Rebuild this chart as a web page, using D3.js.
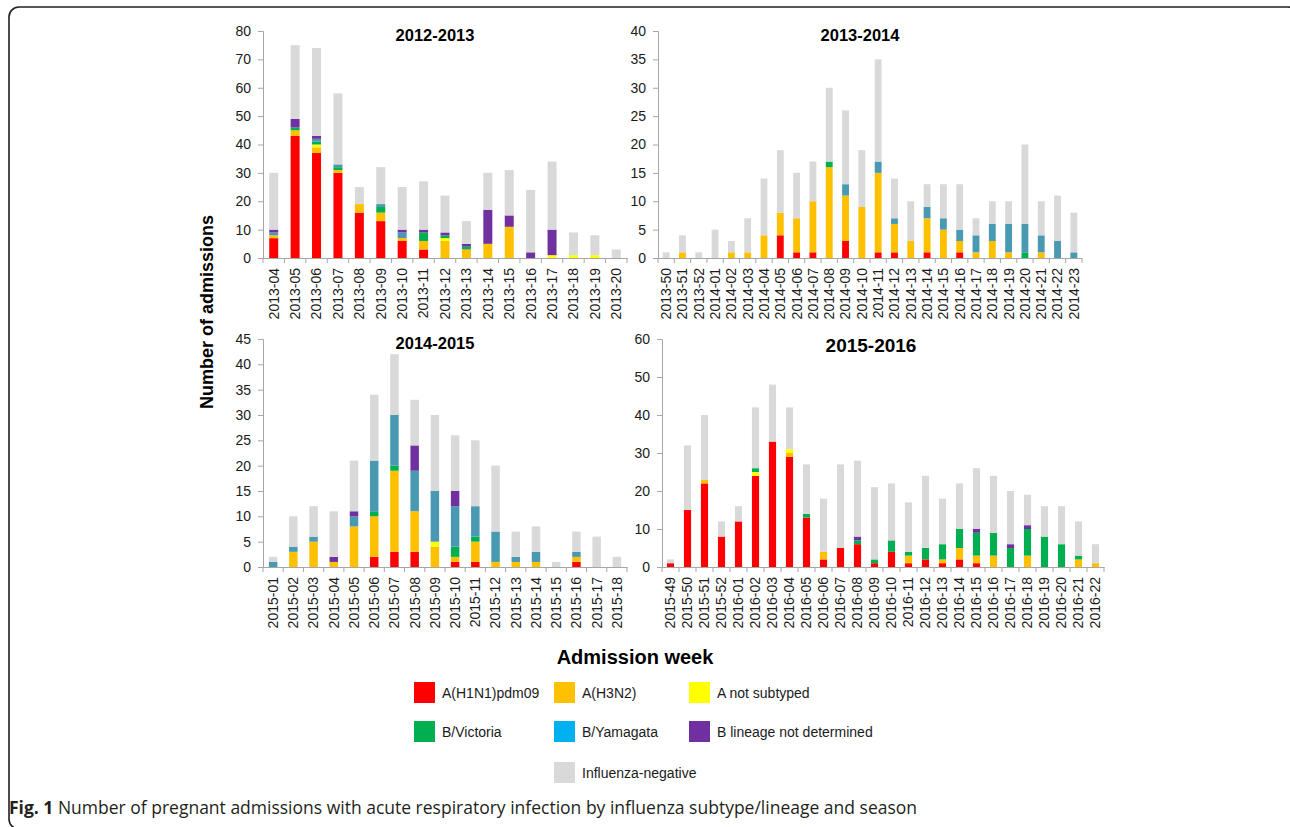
<!DOCTYPE html>
<html>
<head>
<meta charset="utf-8">
<script src="https://cdn.jsdelivr.net/npm/d3@7"></script>
<style>
  body { margin: 0; background: #fff; }
  svg { display: block; font-family: "Liberation Sans", Arial, sans-serif; }
</style>
</head>
<body>
<svg id="chart" width="1290" height="827"></svg>
<script>
// Stack order, bottom to top
const seriesNames = ["A(H1N1)pdm09", "A(H3N2)", "A not subtyped", "B/Victoria", "B/Yamagata", "B lineage not determined", "Influenza-negative"];
const barColors    = ["#ff0000", "#ffc000", "#ffff00", "#00b050", "#4899b1", "#7030a0", "#d9d9d9"];
const legendColors = ["#ff0000", "#ffc000", "#ffff00", "#00b050", "#00b0f0", "#7030a0", "#d9d9d9"];

// ---- Season 2012-2013 ----
const weeks1213   = ["2013-04","2013-05","2013-06","2013-07","2013-08","2013-09","2013-10","2013-11","2013-12","2013-13","2013-14","2013-15","2013-16","2013-17","2013-18","2013-19","2013-20"];
const h1n1_1213   = [7, 43, 37, 30, 16, 13, 6, 3, 0, 0, 0, 0, 0, 0, 0, 0, 0];
const h3n2_1213   = [1, 2, 2, 1, 3, 3, 1, 3, 6, 3, 5, 11, 0, 0, 0, 0, 0];
const notsub_1213 = [0, 0, 1, 0, 0, 0, 0, 0, 1, 0, 0, 0, 0, 1, 1, 1, 0];
const vic_1213    = [0, 1, 1, 1, 0, 2, 0, 3, 1, 1, 0, 0, 0, 0, 0, 0, 0];
const yam_1213    = [1, 0, 1, 1, 0, 1, 2, 0, 0, 0, 0, 0, 0, 0, 0, 0, 0];
const bnd_1213    = [1, 3, 1, 0, 0, 0, 1, 1, 1, 1, 12, 4, 2, 9, 0, 0, 0];
const neg_1213    = [20, 26, 31, 25, 6, 13, 15, 17, 13, 8, 13, 16, 22, 24, 8, 7, 3];
const ticks1213   = [0, 10, 20, 30, 40, 50, 60, 70, 80];

// ---- Season 2013-2014 ----
const weeks1314   = ["2013-50","2013-51","2013-52","2014-01","2014-02","2014-03","2014-04","2014-05","2014-06","2014-07","2014-08","2014-09","2014-10","2014-11","2014-12","2014-13","2014-14","2014-15","2014-16","2014-17","2014-18","2014-19","2014-20","2014-21","2014-22","2014-23"];
const h1n1_1314   = [0, 0, 0, 0, 0, 0, 0, 4, 1, 1, 0, 3, 0, 1, 1, 0, 1, 0, 1, 0, 0, 0, 0, 0, 0, 0];
const h3n2_1314   = [0, 1, 0, 0, 1, 1, 4, 4, 6, 9, 16, 8, 9, 14, 5, 3, 6, 5, 2, 1, 3, 1, 0, 1, 0, 0];
const notsub_1314 = [0, 0, 0, 0, 0, 0, 0, 0, 0, 0, 0, 0, 0, 0, 0, 0, 0, 0, 0, 0, 0, 0, 0, 0, 0, 0];
const vic_1314    = [0, 0, 0, 0, 0, 0, 0, 0, 0, 0, 1, 0, 0, 0, 0, 0, 0, 0, 0, 0, 0, 0, 1, 0, 0, 0];
const yam_1314    = [0, 0, 0, 0, 0, 0, 0, 0, 0, 0, 0, 2, 0, 2, 1, 0, 2, 2, 2, 3, 3, 5, 5, 3, 3, 1];
const bnd_1314    = [0, 0, 0, 0, 0, 0, 0, 0, 0, 0, 0, 0, 0, 0, 0, 0, 0, 0, 0, 0, 0, 0, 0, 0, 0, 0];
const neg_1314    = [1, 3, 1, 5, 2, 6, 10, 11, 8, 7, 13, 13, 10, 18, 7, 7, 4, 6, 8, 3, 4, 4, 14, 6, 8, 7];
const ticks1314   = [0, 5, 10, 15, 20, 25, 30, 35, 40];

// ---- Season 2014-2015 ----
const weeks1415   = ["2015-01","2015-02","2015-03","2015-04","2015-05","2015-06","2015-07","2015-08","2015-09","2015-10","2015-11","2015-12","2015-13","2015-14","2015-15","2015-16","2015-17","2015-18"];
const h1n1_1415   = [0, 0, 0, 0, 0, 2, 3, 3, 0, 1, 1, 0, 0, 0, 0, 1, 0, 0];
const h3n2_1415   = [0, 3, 5, 1, 8, 8, 16, 8, 4, 1, 4, 1, 1, 1, 0, 1, 0, 0];
const notsub_1415 = [0, 0, 0, 0, 0, 0, 0, 0, 1, 0, 0, 0, 0, 0, 0, 0, 0, 0];
const vic_1415    = [0, 0, 0, 0, 0, 1, 1, 0, 0, 2, 1, 0, 0, 0, 0, 0, 0, 0];
const yam_1415    = [1, 1, 1, 0, 2, 10, 10, 8, 10, 8, 6, 6, 1, 2, 0, 1, 0, 0];
const bnd_1415    = [0, 0, 0, 1, 1, 0, 0, 5, 0, 3, 0, 0, 0, 0, 0, 0, 0, 0];
const neg_1415    = [1, 6, 6, 9, 10, 13, 12, 9, 15, 11, 13, 13, 5, 5, 1, 4, 6, 2];
const ticks1415   = [0, 5, 10, 15, 20, 25, 30, 35, 40, 45];

// ---- Season 2015-2016 ----
const weeks1516   = ["2015-49","2015-50","2015-51","2015-52","2016-01","2016-02","2016-03","2016-04","2016-05","2016-06","2016-07","2016-08","2016-09","2016-10","2016-11","2016-12","2016-13","2016-14","2016-15","2016-16","2016-17","2016-18","2016-19","2016-20","2016-21","2016-22"];
const h1n1_1516   = [1, 15, 22, 8, 12, 24, 33, 29, 13, 2, 5, 6, 1, 4, 1, 2, 1, 2, 1, 0, 0, 0, 0, 0, 0, 0];
const h3n2_1516   = [0, 0, 1, 0, 0, 0, 0, 1, 0, 2, 0, 0, 0, 0, 2, 0, 1, 3, 2, 3, 0, 3, 0, 0, 2, 1];
const notsub_1516 = [0, 0, 0, 0, 0, 1, 0, 1, 0, 0, 0, 0, 0, 0, 0, 0, 0, 0, 0, 0, 0, 0, 0, 0, 0, 0];
const vic_1516    = [0, 0, 0, 0, 0, 1, 0, 0, 1, 0, 0, 1, 1, 3, 1, 3, 4, 5, 6, 6, 5, 7, 8, 6, 1, 0];
const yam_1516    = [0, 0, 0, 0, 0, 0, 0, 0, 0, 0, 0, 0, 0, 0, 0, 0, 0, 0, 0, 0, 0, 0, 0, 0, 0, 0];
const bnd_1516    = [0, 0, 0, 0, 0, 0, 0, 0, 0, 0, 0, 1, 0, 0, 0, 0, 0, 0, 1, 0, 1, 1, 0, 0, 0, 0];
const neg_1516    = [1, 17, 17, 4, 4, 16, 15, 11, 13, 14, 22, 20, 19, 15, 13, 19, 12, 12, 16, 15, 14, 8, 8, 10, 9, 5];
const ticks1516   = [0, 10, 20, 30, 40, 50, 60];

// Panel layout (plot-area pixel boxes) and the series for each season
const panels = [
  { title: "2012-2013", weeks: weeks1213, ticks: ticks1213,
    series: [h1n1_1213, h3n2_1213, notsub_1213, vic_1213, yam_1213, bnd_1213, neg_1213],
    left: 263, right: 627, top: 31, bottom: 258, titleX: 435, titleY: 41, titleSize: 16.5 },
  { title: "2013-2014", weeks: weeks1314, ticks: ticks1314,
    series: [h1n1_1314, h3n2_1314, notsub_1314, vic_1314, yam_1314, bnd_1314, neg_1314],
    left: 658, right: 1082, top: 31, bottom: 258, titleX: 860, titleY: 41, titleSize: 16.5 },
  { title: "2014-2015", weeks: weeks1415, ticks: ticks1415,
    series: [h1n1_1415, h3n2_1415, notsub_1415, vic_1415, yam_1415, bnd_1415, neg_1415],
    left: 263, right: 627, top: 339, bottom: 567, titleX: 435, titleY: 349, titleSize: 16.5 },
  { title: "2015-2016", weeks: weeks1516, ticks: ticks1516,
    series: [h1n1_1516, h3n2_1516, notsub_1516, vic_1516, yam_1516, bnd_1516, neg_1516],
    left: 662, right: 1104, top: 339, bottom: 567, titleX: 871, titleY: 352, titleSize: 19 }
];

const svg = d3.select("#chart");
svg.append("rect").attr("width", 1290).attr("height", 827).attr("fill", "#fff");

// Figure frame with rounded corners
svg.append("rect")
  .attr("x", 9).attr("y", 7).attr("width", 1289).attr("height", 822)
  .attr("rx", 10).attr("ry", 10)
  .attr("fill", "none").attr("stroke", "#231f20").attr("stroke-width", 1.6);

const axisColor = "#a6a6a6";
const labelColor = "#1a1a1a";

panels.forEach(p => {
  const g = svg.append("g");
  const pad = 0.58;
  const x = d3.scaleBand().domain(p.weeks).range([p.left, p.right])
    .paddingInner(pad).paddingOuter(pad / 2);
  const yMax = p.ticks[p.ticks.length - 1];
  const y = d3.scaleLinear().domain([0, yMax]).range([p.bottom, p.top]);

  // Stacked bars
  const rows = p.weeks.map((w, i) => {
    const r = { week: w };
    seriesNames.forEach((s, k) => { r[s] = p.series[k][i]; });
    return r;
  });
  const stacked = d3.stack().keys(seriesNames)(rows);
  g.selectAll("g.layer").data(stacked).join("g")
    .attr("class", "layer")
    .attr("fill", (d, k) => barColors[k])
    .selectAll("rect").data(d => d.filter(v => v[1] > v[0])).join("rect")
    .attr("x", d => x(d.data.week))
    .attr("width", x.bandwidth())
    .attr("y", d => y(d[1]))
    .attr("height", d => y(d[0]) - y(d[1]));

  // Y axis
  const yAxis = g.append("g").attr("transform", `translate(${p.left},0)`)
    .call(d3.axisLeft(y).tickValues(p.ticks).tickSize(5).tickPadding(7));
  yAxis.select(".domain").attr("stroke", axisColor);
  yAxis.selectAll(".tick line").attr("stroke", axisColor);
  yAxis.selectAll(".tick text").attr("fill", labelColor)
    .style("font-size", "14px").style("font-family", '"Liberation Sans", Arial, sans-serif');

  // X axis: labels at band centres, tick marks on band boundaries
  const xAxis = g.append("g").attr("transform", `translate(0,${p.bottom})`)
    .call(d3.axisBottom(x).tickSize(0).tickPadding(0));
  xAxis.select(".domain").attr("stroke", axisColor);
  xAxis.selectAll(".tick text")
    .attr("fill", labelColor)
    .style("font-size", "14px").style("font-family", '"Liberation Sans", Arial, sans-serif')
    .attr("text-anchor", "end")
    .attr("transform", "rotate(-90)")
    .attr("x", -10).attr("y", 0).attr("dy", "0.35em");
  const step = x.step();
  const bounds = d3.range(p.weeks.length + 1).map(i => x.range()[0] + i * step);
  g.append("g").selectAll("line").data(bounds).join("line")
    .attr("x1", d => d).attr("x2", d => d)
    .attr("y1", p.bottom).attr("y2", p.bottom + 5)
    .attr("stroke", axisColor);

  // Season title
  g.append("text")
    .attr("x", p.titleX).attr("y", p.titleY)
    .attr("text-anchor", "middle")
    .style("font-weight", "bold").style("font-size", p.titleSize + "px")
    .attr("fill", "#000")
    .text(p.title);
});

// Axis titles
svg.append("text")
  .attr("transform", "translate(213,312) rotate(-90)")
  .attr("text-anchor", "middle")
  .style("font-weight", "bold").style("font-size", "18px")
  .attr("fill", "#000")
  .text("Number of admissions");

svg.append("text")
  .attr("x", 635).attr("y", 664)
  .attr("text-anchor", "middle")
  .style("font-weight", "bold").style("font-size", "20px")
  .attr("fill", "#000")
  .text("Admission week");

// Legend
const legendPos = [
  [414, 682], [554, 682], [689, 682],
  [414, 721], [554, 721], [689, 721],
  [554, 762]
];
const legend = svg.append("g");
seriesNames.forEach((name, k) => {
  const [lx, ly] = legendPos[k];
  legend.append("rect").attr("x", lx).attr("y", ly).attr("width", 21).attr("height", 21)
    .attr("fill", legendColors[k]);
  legend.append("text").attr("x", lx + 28).attr("y", ly + 16)
    .style("font-size", "14px").attr("fill", labelColor)
    .text(name);
});

// Caption
const cap = svg.append("text")
  .attr("x", 9).attr("y", 814)
  .style("font-family", '"Open Sans", "Noto Sans", sans-serif')
  .style("font-size", "17.5px").attr("fill", "#231f20");
cap.append("tspan").style("font-weight", "bold").text("Fig. 1");
cap.append("tspan").text(" Number of pregnant admissions with acute respiratory infection by influenza subtype/lineage and season");
</script>
</body>
</html>
